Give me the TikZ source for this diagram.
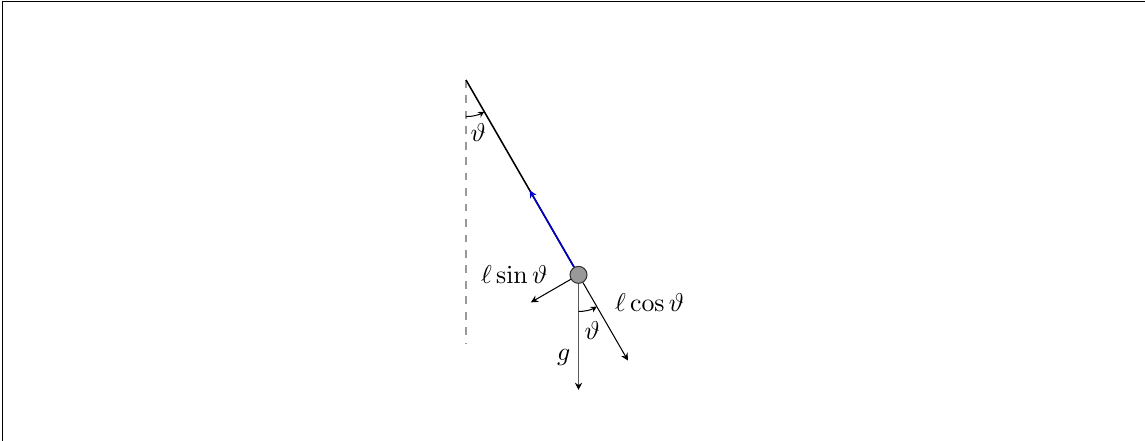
\documentclass[tikz,border=0pt]{standalone}
\usepackage{amsmath,amssymb}
\usepackage{tikz}
\usetikzlibrary{positioning,arrows.meta,calc}
\tikzset{
  bob/.style={circle, draw=black!80, fill=gray!80, inner sep=0pt, minimum size=6.6pt},
  rod/.style={semithick},
  tens/.style={-{Stealth[length=2.8pt, width=2.8pt]}, blue!80!black, semithick},
  grav/.style={-{Stealth[length=2.8pt, width=2.8pt, color=black]}, black!65, semithick},
  comp/.style={-{Stealth[length=2.8pt, width=2.8pt]}, thin},
  ang/.style={-{Stealth[length=2.4pt, width=2.4pt]}, thin},
  vert/.style={dashed, gray!80},
  lbl/.style={inner sep=1pt},
}

\begin{document}
\begin{tikzpicture}
%% ---- cadre de la page
\useasboundingbox (-6.357,1.091) rectangle (9.263,-4.912);
\draw[thin] (-6.317,1.071) rectangle (9.6,-5.3);

%% ---- le pivot, la verticale et la masse
\coordinate (piv) at (0,0);
\coordinate (bas) at (0,-3.6);
\draw[vert] (piv) -- (bas);
\node[bob] (bob) at (-60:3.07) {};
\draw[rod] (piv) -- (bob);

%% ---- les forces sur la masse
\coordinate (tt) at ($(bob)+(120:1.33)$);
\coordinate (tg) at ($(bob)+(0,-1.57)$);
\coordinate (tc) at ($(bob)+(-60:1.35)$);
\coordinate (ts) at ($(bob)+(210:0.75)$);
\draw[tens] (bob) -- (tt);
\draw[grav] (bob) -- (tg);
\draw[comp] (bob) -- (tc);
\draw[comp] (bob) -- (ts);

%% ---- les angles
\draw[ang] ($(piv)+(-90:0.5)$) arc[start angle=-90, end angle=-60, radius=0.5];
\draw[ang] ($(bob)+(-90:0.5)$) arc[start angle=-90, end angle=-60, radius=0.5];
\node[lbl] (th1) at ($(piv)+(-77:0.74)$) {$\vartheta$};
\node[lbl] (th2) at ($(bob)+(-76:0.78)$) {$\vartheta$};

%% ---- les longueurs
\node[lbl, left=2.6mm of bob] (ls) {$\ell\sin\vartheta$};
\node[lbl] (lc) at ($(bob)+(0.97,-0.38)$) {$\ell\cos\vartheta$};
\node[lbl] (gg) at ($(bob)+(-0.2,-1.12)$) {$g$};
\end{tikzpicture}
\end{document}
